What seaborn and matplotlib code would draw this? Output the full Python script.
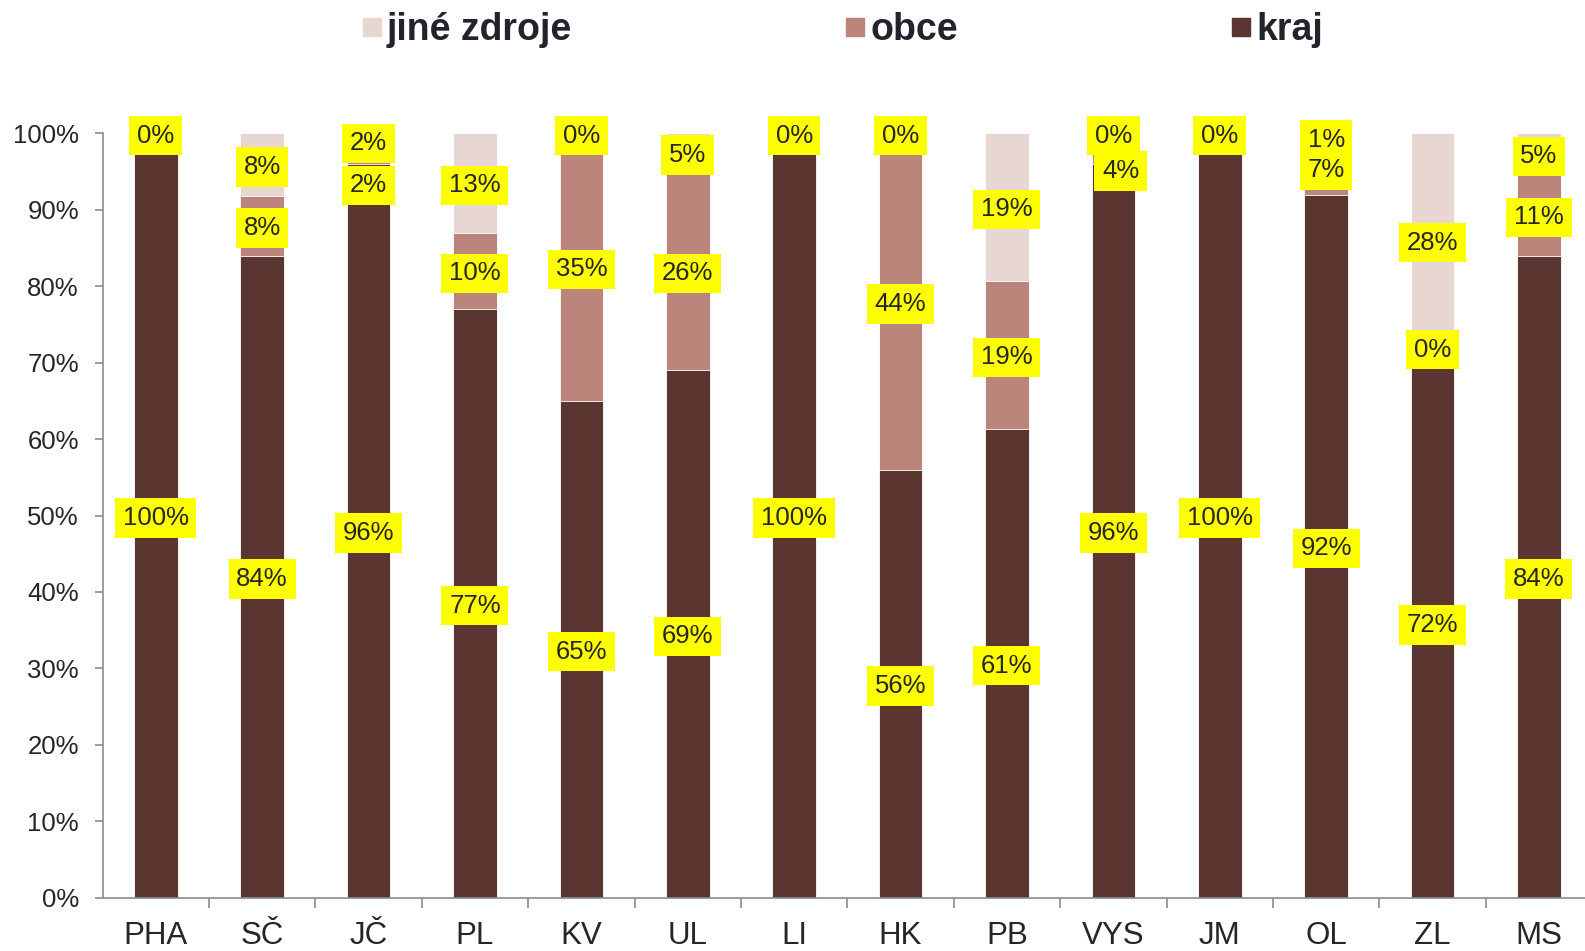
import numpy as np
import pandas as pd
import matplotlib.pyplot as plt
import seaborn as sns
from matplotlib.lines import Line2D

# regions and shares (%) by funding source
regions = ['PHA', 'SČ', 'JČ', 'PL', 'KV', 'UL', 'LI', 'HK', 'PB', 'VYS', 'JM', 'OL', 'ZL', 'MS']
kraj = [100, 84, 96, 77, 65, 69, 100, 56, 61.3, 96, 100, 92, 72, 84]
obce = [0, 7.8, 2, 10, 35, 26, 0, 44, 19.4, 4, 0, 7, 0, 10.6]
jine = [0, 8.2, 2, 13, 0, 5, 0, 0, 19.3, 0, 0, 1, 28, 5.4]
series_names = ['jiné zdroje', 'obce', 'kraj']

colors = {'kraj': '#5b3630', 'obce': '#bc857c', 'jiné zdroje': '#e8d6d3'}
text_col = '#262626'
axis_col = '#8c8c8c'

# manual nudges of overlapping labels (x in category units, y in %)
nudges = {('JČ', 'obce'): (0.0, -3.5), ('VYS', 'obce'): (0.07, -2.6)}

df = pd.DataFrame({'region': regions, 'kraj': kraj, 'obce': obce, 'jine': jine})
df['k_top'] = df['kraj']
df['o_top'] = df['kraj'] + df['obce']
df['j_top'] = df['o_top'] + df['jine']

sns.set_theme(style='white')
plt.rcParams['font.family'] = ['Liberation Sans', 'DejaVu Sans']

fig = plt.figure(figsize=(15.85, 9.51), dpi=100)
ax = fig.add_axes([0.0647, 0.0561, 0.9398, 0.8036])

# stacked bars drawn as overlapping cumulative bars
for col, name in [('j_top', 'jiné zdroje'), ('o_top', 'obce'), ('k_top', 'kraj')]:
    sns.barplot(data=df, x='region', y=col, order=regions, color=colors[name],
                saturation=1, width=0.41, edgecolor='white', linewidth=0.6, ax=ax)

# value labels in yellow boxes, centred on each segment
box = dict(boxstyle='square,pad=0.3', facecolor='#ffff00', edgecolor='none')
for i, r in df.iterrows():
    segs = [('kraj', 0, r['kraj']),
            ('obce', r['k_top'], r['obce']),
            ('jiné zdroje', r['o_top'], r['jine'])]
    for name, base, val in segs:
        dx, dy = nudges.get((r['region'], name), (0, 0))
        ax.text(i + dx, base + val / 2 + dy - 0.3, f'{val:.0f}%', ha='center', va='center',
                fontsize=18.5, color=text_col, bbox=box, clip_on=False, zorder=5)

ax.set_xlim(-0.5, len(regions) - 0.5)
ax.set_ylim(0, 100)
ax.set_yticks(np.arange(0, 101, 10))
ax.set_yticklabels([f'{v}%' for v in range(0, 101, 10)])
ax.set_xticks(range(len(regions)))
ax.set_xticklabels(regions)
ax.set_xticks(np.arange(0.5, len(regions) - 0.5, 1), minor=True)
ax.set_xlabel('')
ax.set_ylabel('')

ax.tick_params(axis='y', direction='out', length=6, width=1.2, color=axis_col,
               labelsize=18.5, labelcolor=text_col, pad=11, left=True)
ax.tick_params(axis='x', which='major', length=0, labelsize=22.5, labelcolor=text_col, pad=17)
ax.tick_params(axis='x', which='minor', direction='out', length=7, width=1.2,
               color=axis_col, bottom=True)

for s in ['top', 'right']:
    ax.spines[s].set_visible(False)
for s in ['left', 'bottom']:
    ax.spines[s].set_color(axis_col)
    ax.spines[s].set_linewidth(1.2)

handles = [Line2D([], [], marker='s', linestyle='', markersize=13.5, color=colors[n])
           for n in series_names]
leg = fig.legend(handles, series_names, loc='center', bbox_to_anchor=(0.531, 0.968),
                 ncol=3, frameon=False, columnspacing=7.25, handletextpad=0.1,
                 handlelength=0.6, prop={'weight': 'bold', 'size': 27})
for t in leg.get_texts():
    t.set_color('#23232d')

fig.savefig('out.png', dpi=100)
